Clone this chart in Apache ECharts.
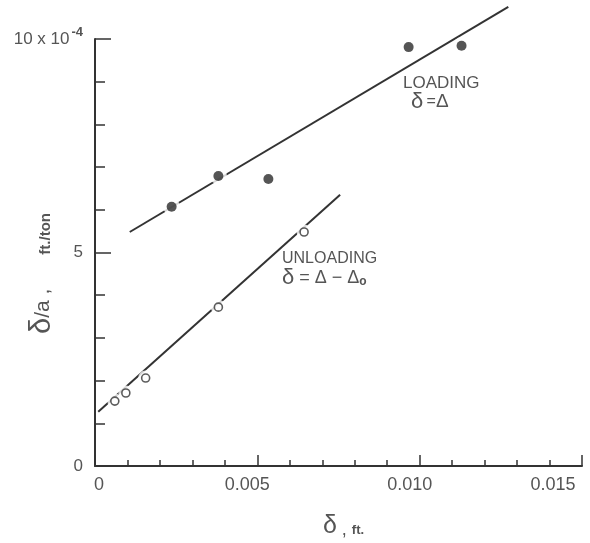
<!DOCTYPE html>
<html>
<head>
<meta charset="utf-8">
<script src="https://cdn.jsdelivr.net/npm/echarts@6/dist/echarts.min.js"></script>
<style>
html,body{margin:0;padding:0;background:#fff;}
#chart{width:590px;height:543px;}
</style>
</head>
<body>
<div id="chart"></div>
<script>
// ---- data ----
const loadingX = [0.00236, 0.0038, 0.00534, 0.00966, 0.01129];
const loadingY = [6.07, 6.79, 6.72, 9.81, 9.84];
const unloadingX = [0.00061, 0.00095, 0.00156, 0.0038, 0.00644];
const unloadingY = [1.52, 1.71, 2.06, 3.72, 5.48];
const loadingFitX = [0.00107, 0.01273];
const loadingFitY = [5.48, 10.75];
const unloadingFitX = [0.0001, 0.00755];
const unloadingFitY = [1.27, 6.35];
const xTickLabels = ['0', '0.005', '0.010', '0.015'];
const yTickLabels = ['0', '5', '10 x 10'];

const zip = (xs, ys) => xs.map((x, i) => [x, ys[i]]);
const FONT = 'Liberation Sans';
const INK = '#333';
const TXT = '#555';

const chart = echarts.init(document.getElementById('chart'), null, {renderer: 'canvas'});

const xShift = ['p0', 'p1', 'p2', 'p3'];
const option = {
  backgroundColor: '#fff',
  animation: false,
  grid: {left: 95, top: 39, right: 8, bottom: 77, containLabel: false, outerBoundsMode: 'none'},
  xAxis: {
    type: 'value', min: 0, max: 0.015, interval: 0.005,
    splitLine: {show: false},
    axisLine: {show: true, onZero: false, lineStyle: {color: INK, width: 2}},
    axisTick: {show: true, inside: true, length: 11, lineStyle: {color: INK, width: 1.5}},
    minorTick: {show: true, splitNumber: 5, length: 6, lineStyle: {color: INK, width: 1.5}},
    axisLabel: {
      margin: 10,
      color: TXT,
      fontFamily: FONT,
      fontSize: 18,
      hideOverlap: false,
      formatter: function (v) {
        const i = Math.round(v / 0.005);
        return '{' + xShift[i] + '|' + xTickLabels[i] + '}';
      },
      rich: {
        p0: {fontSize: 18, fontFamily: FONT, color: TXT, padding: [0, 0, 0, 8]},
        p1: {fontSize: 18, fontFamily: FONT, color: TXT, padding: [0, 20, 0, 0]},
        p2: {fontSize: 18, fontFamily: FONT, color: TXT, padding: [0, 20, 0, 0]},
        p3: {fontSize: 18, fontFamily: FONT, color: TXT, padding: [0, 58, 0, 0]}
      }
    },
    name: '{d|δ}{m| , }{s|ft.}',
    nameLocation: 'middle',
    nameGap: 48,
    nameMoveOverlap: false,
    nameTextStyle: {
      padding: [0, 0, 0, 10],
      rich: {
        d: {fontSize: 25, fontFamily: FONT, color: TXT, verticalAlign: 'bottom'},
        m: {fontSize: 18, fontFamily: FONT, color: TXT, verticalAlign: 'bottom'},
        s: {fontSize: 13, fontFamily: FONT, color: TXT, fontWeight: 'bold', verticalAlign: 'bottom', padding: [0, 0, 2, 0]}
      }
    }
  },
  yAxis: {
    type: 'value', min: 0, max: 10, interval: 5,
    splitLine: {show: false},
    axisLine: {show: true, onZero: false, lineStyle: {color: INK, width: 2}},
    axisTick: {show: true, inside: true, length: 16, lineStyle: {color: INK, width: 1.5}},
    minorTick: {show: true, splitNumber: 5, length: 10, lineStyle: {color: INK, width: 1.5}},
    axisLabel: {
      margin: 12,
      color: TXT,
      fontFamily: FONT,
      fontSize: 18,
      formatter: function (v) {
        const i = Math.round(v / 5);
        if (i === 2) return '{a|' + yTickLabels[i] + '}{s|-4}';
        return '{a|' + yTickLabels[i] + '}';
      },
      rich: {
        a: {fontSize: 17, fontFamily: FONT, color: TXT},
        s: {fontSize: 13, fontFamily: FONT, color: TXT, fontWeight: 'bold', padding: [0, 0, 14, 2]}
      }
    },
    name: '{d|δ}{m|/a ,}{g|}{s|ft./ton}',
    nameLocation: 'middle',
    nameGap: 39,
    nameRotate: 90,
    nameMoveOverlap: false,
    nameTextStyle: {
      padding: [0, 42, 0, 0],
      rich: {
        d: {fontSize: 29, fontFamily: FONT, color: TXT, verticalAlign: 'bottom'},
        m: {fontSize: 21, fontFamily: FONT, color: TXT, verticalAlign: 'bottom', padding: [0, 0, 2, 0]},
        g: {width: 34},
        s: {fontSize: 15, fontFamily: FONT, color: TXT, fontWeight: 'bold', verticalAlign: 'bottom', padding: [0, 0, 3, 0]}
      }
    }
  },
  series: [
    {
      type: 'line', data: zip(loadingFitX, loadingFitY), symbol: 'none', clip: false,
      lineStyle: {color: INK, width: 2}, z: 2
    },
    {
      type: 'line', data: zip(unloadingFitX, unloadingFitY), symbol: 'none', clip: false,
      lineStyle: {color: INK, width: 2}, z: 2
    },
    {
      type: 'scatter', data: zip(loadingX, loadingY), symbol: 'circle', symbolSize: 17,
      itemStyle: {color: '#fff'}, z: 3, silent: true
    },
    {
      type: 'scatter', data: zip(unloadingX, unloadingY), symbol: 'circle', symbolSize: 15,
      itemStyle: {color: '#fff'}, z: 3, silent: true
    },
    {
      type: 'scatter', data: zip(loadingX, loadingY), symbol: 'circle', symbolSize: 10,
      itemStyle: {color: '#2b2b2b'}, z: 4
    },
    {
      type: 'scatter', data: zip(unloadingX, unloadingY), symbol: 'circle', symbolSize: 8,
      itemStyle: {color: '#fff', borderColor: INK, borderWidth: 1.6}, z: 4
    }
  ],
  graphic: [
    {type: 'text', left: 403, top: 75, z: 10,
      style: {text: 'LOADING', fill: TXT, font: '17px "Liberation Sans"'}},
    {type: 'text', left: 411, top: 91, z: 10,
      style: {text: '{d|δ} {e|=}{t|Δ}', rich: {
        d: {fontSize: 22, fontFamily: FONT, fill: TXT},
        e: {fontSize: 16, fontFamily: FONT, fill: TXT},
        t: {fontSize: 19, fontFamily: FONT, fill: TXT}
      }}},
    {type: 'text', left: 282, top: 251, z: 10,
      style: {text: 'UNLOADING', fill: TXT, font: '16px "Liberation Sans"'}},
    {type: 'text', left: 282, top: 267, z: 10,
      style: {text: '{d|δ}{e| = Δ − Δ}{o|o}', rich: {
        d: {fontSize: 22, fontFamily: FONT, fill: TXT},
        e: {fontSize: 18, fontFamily: FONT, fill: TXT},
        o: {fontSize: 12, fontFamily: FONT, fill: TXT, fontWeight: 'bold', padding: [8, 0, 0, 0]}
      }}}
  ]
};
chart.setOption(option);
</script>
</body>
</html>
